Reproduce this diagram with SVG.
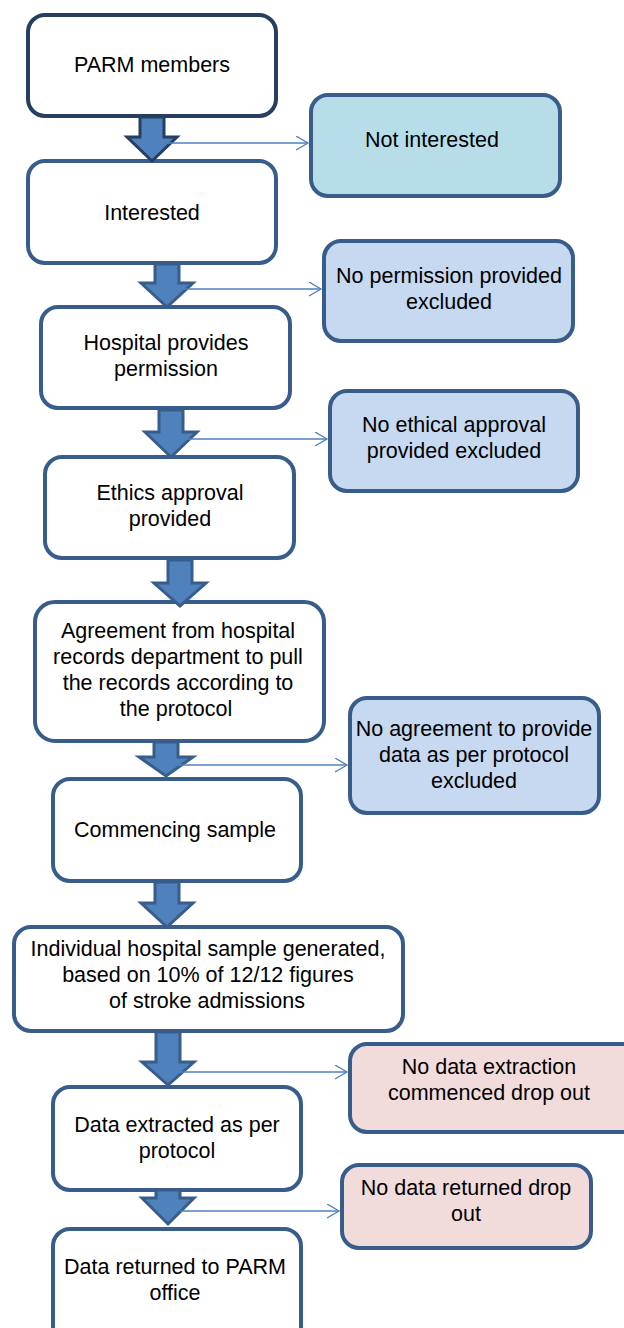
<svg xmlns="http://www.w3.org/2000/svg" width="624" height="1328" viewBox="0 0 624 1328">
<defs>
<style>
.box{fill:#ffffff;stroke:#385D8A;stroke-width:4}
.top{stroke:#243F60}
.cyan{fill:#B7DEE8}
.blue{fill:#C6D9F1}
.pink{fill:#F2DCDB}
.t{font-family:"Liberation Sans",Arial,sans-serif;font-size:21.5px;fill:#000;text-anchor:middle}
.big{fill:#4F81BD;stroke:#385D8A;stroke-width:3;stroke-linejoin:miter}
.thin{fill:none;stroke:#4F81BD;stroke-width:1.3}
</style>
<marker id="open" markerUnits="userSpaceOnUse" markerWidth="14" markerHeight="16" refX="12" refY="7" orient="auto">
<path d="M0,0 L12,7 L0,14" fill="none" stroke="#4F81BD" stroke-width="1.3"/>
</marker>
</defs>
<rect width="624" height="1328" fill="#ffffff"/>
<g id="n1"><rect class="box top" x="28" y="15" width="248" height="101" rx="17"/><text class="t" x="152" y="72">PARM members</text></g>
<g id="n_not"><rect class="box cyan" x="311" y="95" width="249" height="101" rx="17"/><text class="t" x="432" y="147">Not interested</text></g>
<g id="n2"><rect class="box" x="28" y="161" width="248" height="102" rx="17"/><text class="t" x="152" y="220">Interested</text></g>
<g id="n_perm"><rect class="box blue" x="324" y="241" width="249" height="100" rx="17"/><text class="t" x="449" y="283">No permission provided</text><text class="t" x="449" y="309">excluded</text></g>
<g id="n3"><rect class="box" x="41" y="307" width="249" height="101" rx="17"/><text class="t" x="166" y="350">Hospital provides</text><text class="t" x="166" y="376">permission</text></g>
<g id="n_eth"><rect class="box blue" x="330" y="391" width="248" height="100" rx="17"/><text class="t" x="454" y="432">No ethical approval</text><text class="t" x="454" y="458">provided excluded</text></g>
<g id="n4"><rect class="box" x="45" y="457" width="249" height="101" rx="17"/><text class="t" x="170" y="500">Ethics approval</text><text class="t" x="170" y="526">provided</text></g>
<g id="n5"><rect class="box" x="35" y="602" width="289" height="139" rx="20"/><text class="t" x="178" y="638">Agreement from hospital</text><text class="t" x="178" y="664">records department to pull</text><text class="t" x="178" y="690">the records according to</text><text class="t" x="176" y="716">the protocol</text></g>
<g id="n_agr"><rect class="box blue" x="350" y="698" width="249" height="115" rx="17"/><text class="t" x="474" y="736">No agreement to provide</text><text class="t" x="474" y="762">data as per protocol</text><text class="t" x="474" y="788">excluded</text></g>
<g id="n6"><rect class="box" x="53" y="779" width="248" height="102" rx="17"/><text class="t" x="175" y="837">Commencing sample</text></g>
<g id="n7"><rect class="box" x="14" y="927" width="389" height="104" rx="17"/><text class="t" x="208" y="956">Individual hospital sample generated,</text><text class="t" x="208" y="982">based on 10% of 12/12 figures</text><text class="t" x="207" y="1008">of stroke admissions</text></g>
<g id="n_ext"><rect class="box pink" x="350" y="1044" width="290" height="88" rx="17"/><text class="t" x="489" y="1074">No data extraction</text><text class="t" x="489" y="1100">commenced drop out</text></g>
<g id="n8"><rect class="box" x="53" y="1087" width="248" height="103" rx="17"/><text class="t" x="177" y="1132">Data extracted as per</text><text class="t" x="177" y="1158">protocol</text></g>
<g id="n_ret"><rect class="box pink" x="342" y="1165" width="249" height="83" rx="17"/><text class="t" x="466" y="1195">No data returned drop</text><text class="t" x="466" y="1221">out</text></g>
<g id="n9"><rect class="box" x="53" y="1229" width="248" height="130" rx="17"/><text class="t" x="175" y="1274">Data returned to PARM</text><text class="t" x="175" y="1300">office</text></g>
<g id="connectors">
<polygon class="big" style="stroke:#243F60" points="140,117 164,117 164,137 177,137 152,161 127,137 140,137"/>
<polygon class="big" points="155,264 179,264 179,283 193,283 167,307 141,283 155,283"/>
<polygon class="big" points="159,410 183,410 183,432 197,432 171,457 145,432 159,432"/>
<polygon class="big" points="168,560 192,560 192,583 206,583 180,606 154,583 168,583"/>
<polygon class="big" points="154,742 178,742 178,757 193,757 166,776 139,757 154,757"/>
<polygon class="big" points="155,882 179,882 179,903 193,903 167,927 141,903 155,903"/>
<polygon class="big" points="156,1032 180,1032 180,1062 194,1062 168,1085 142,1062 156,1062"/>
<polygon class="big" points="156,1190 180,1190 180,1198 194,1198 168,1224 142,1198 156,1198"/>
<line class="thin" x1="164" y1="143" x2="308" y2="143" marker-end="url(#open)"/>
<line class="thin" x1="179" y1="289" x2="321" y2="289" marker-end="url(#open)"/>
<line class="thin" x1="183" y1="439" x2="327" y2="439" marker-end="url(#open)"/>
<line class="thin" x1="178" y1="765" x2="347" y2="765" marker-end="url(#open)"/>
<line class="thin" x1="180" y1="1072" x2="347" y2="1072" marker-end="url(#open)"/>
<line class="thin" x1="180" y1="1211" x2="339" y2="1211" marker-end="url(#open)"/>
</g>
</svg>
